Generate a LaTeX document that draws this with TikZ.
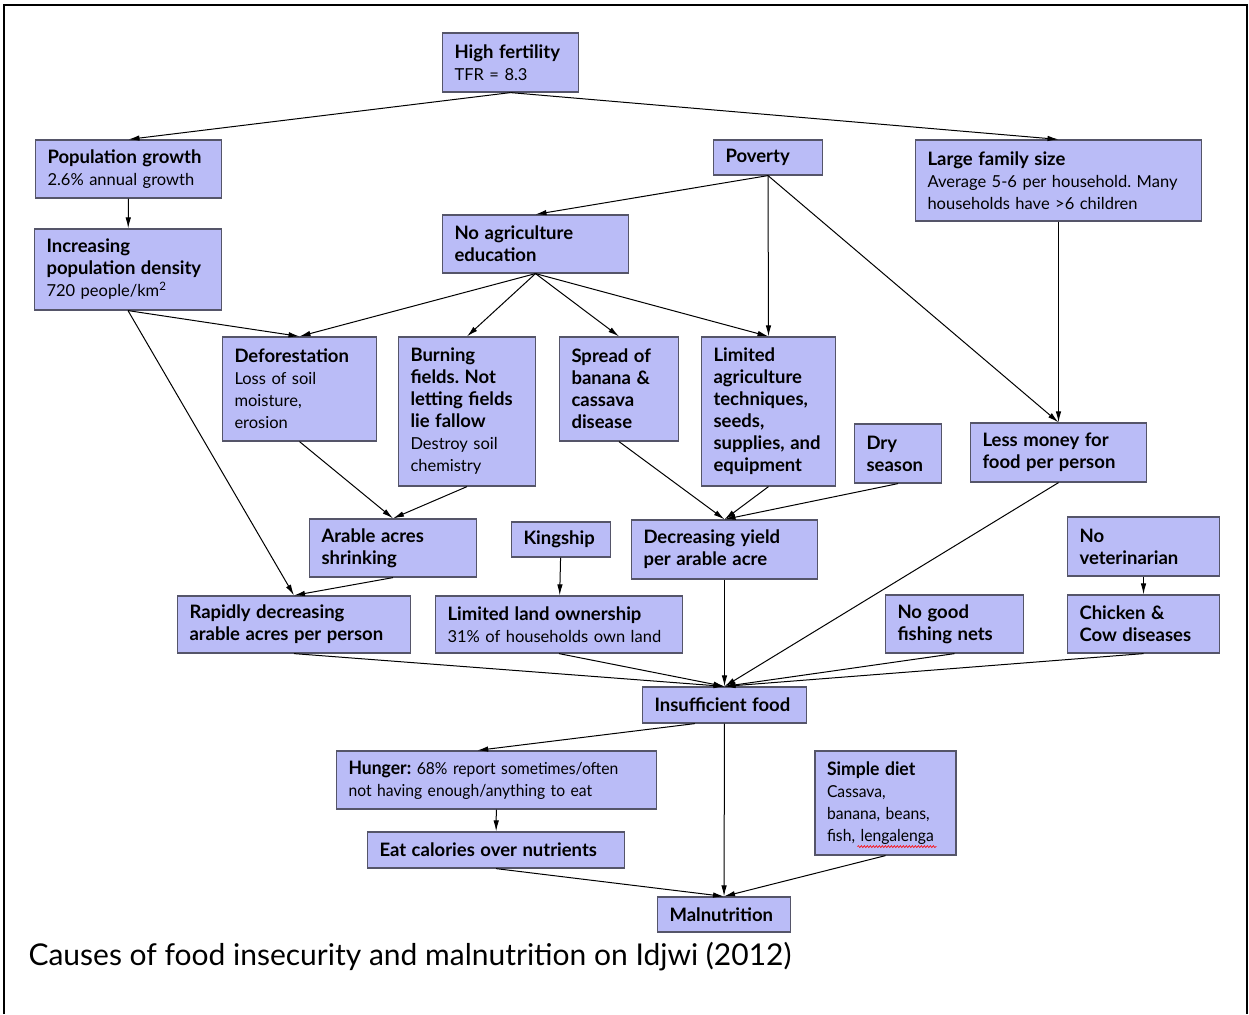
\documentclass[tikz,border=0pt]{standalone}
\usepackage{fontspec}
\setmainfont{Lato}
\newfontfamily\narrowfont[FakeStretch=0.95]{Lato}
\usetikzlibrary{calc}
\usetikzlibrary{arrows.meta}
\usetikzlibrary{decorations.pathmorphing}

\definecolor{boxfill}{RGB}{186,188,247}
\definecolor{boxline}{RGB}{85,85,105}

\newcommand{\hd}[1]{{\fontsize{18.5}{22}\selectfont\bfseries #1}}

\tikzset{
  cause/.style={rectangle, draw=boxline, fill=boxfill, line width=1.2pt, inner xsep=12pt, inner ysep=2pt, align=left, font=\fontsize{16.5}{22}\selectfont\frenchspacing},
  narrow/.style={font=\narrowfont\fontsize{16.5}{22}\selectfont\frenchspacing},
  link/.style={-{Latex[length=11pt,width=5.5pt]}, line width=1pt}
}

\begin{document}
\begin{tikzpicture}[x=1pt,y=-1pt]
        \useasboundingbox (0,0) rectangle (1249,1014);
        \draw[line width=2pt] (4,1014) -- (4,5) -- (1247,5) -- (1247,1014);

        % top rows
        \node[text width=112pt, minimum height=59pt] at (510.5,62.5) [cause] (fert) {\hd{High fertility}\\TFR = 8.3};
        \node[text width=162pt, minimum height=58pt] at (128.5,169) [cause] (popg) {\hd{Population growth}\\2.6\% annual growth};
        \node[text width=163pt, minimum height=81pt] at (128,269.5) [cause] (dens) {\hd{Increasing\\population density}\\720 people/km\textsuperscript{2}};
        \node[text width=85pt, minimum height=35pt] at (768,157.5) [cause] (pov) {\hd{Poverty}};
        \node[text width=262pt, minimum height=81pt] at (1058.5,180.5) [cause] (fam) {\hd{Large family size}\\Average 5-6 per household. Many\\households have >6 children};
        \node[text width=162pt, minimum height=58pt] at (535.5,244) [cause] (noedu) {\hd{No agriculture\\education}};

        % middle rows
        \node[text width=130pt, minimum height=104pt] at (299.5,389) [cause] (defo) {\hd{Deforestation}\\Loss of soil\\moisture,\\erosion};
        \node[text width=113pt, minimum height=149pt] at (467,411.5) [cause] (burn) {\hd{Burning\\fields. Not\\letting fields\\lie fallow}\\Destroy soil\\chemistry};
        \node[text width=95pt, minimum height=104pt] at (619,389) [cause] (spread) {\hd{Spread of\\banana \&\\cassava\\disease}};
        \node[text width=110pt, minimum height=149pt] at (768.5,411.5) [cause] (lim) {\hd{Limited\\agriculture\\techniques,\\seeds,\\supplies, and\\equipment}};
        \node[text width=63pt, minimum height=59pt] at (898,453.5) [cause] (dry) {\hd{Dry\\season}};
        \node[text width=152pt, minimum height=59pt] at (1058.5,452.5) [cause] (money) {\hd{Less money for\\food per person}};
        \node[text width=143pt, minimum height=58pt] at (393,548) [cause] (arable) {\hd{Arable acres\\shrinking}};
        \node[text width=75pt, minimum height=35pt] at (561,539.5) [cause] (king) {\hd{Kingship}};
        \node[text width=162pt, minimum height=59pt] at (724.5,549.5) [cause] (yield) {\hd{Decreasing yield\\per arable acre}};
        \node[text width=128pt, minimum height=59pt] at (1143.5,546.5) [cause] (novet) {\hd{No\\veterinarian}};
        \node[text width=209pt, minimum height=57pt] at (294,624.5) [cause] (rapid) {\hd{Rapidly decreasing\\arable acres per person}};
        \node[text width=223pt, inner xsep=10pt, minimum height=57pt] at (559,624.5) [cause] (land) {\hd{Limited land ownership}\\31\% of households own land};
        \node[text width=114pt, minimum height=58pt] at (954.5,624) [cause] (nets) {\hd{No good\\fishing nets}};
        \node[text width=128pt, minimum height=58pt] at (1143.5,624) [cause] (chick) {\hd{Chicken \&\\Cow diseases}};

        % bottom rows
        \node[text width=140pt, minimum height=36pt] at (724.5,705) [cause] (food) {\hd{Insufficient food}};
        \node[text width=296pt, minimum height=58pt] at (496.5,780) [cause, narrow] (hunger) {\hd{Hunger:} 68\% report sometimes/often\\not having enough/anything to eat};
        \node[text width=117pt, inner xsep=9pt, minimum height=104pt] at (885.5,803) [cause, narrow] (diet) {\hd{Simple diet}\\Cassava,\\banana, beans,\\fish, lengalenga};
        \node[text width=233pt, minimum height=36pt] at (496,850) [cause] (calor) {\hd{Eat calories over nutrients}};
        \node[text width=109pt, minimum height=35pt] at (724,914.5) [cause] (maln) {\hd{Malnutrition}};
        \node[anchor=base west, font=\fontsize{30}{34}\selectfont] at (25,965) (caption) {Causes of food insecurity and malnutrition on Idjwi (2012)};
        \draw[red, line width=0.6pt, decorate, decoration={snake, amplitude=1pt, segment length=3pt}] ($(diet.south west)+(43,-9)$) -- ($(diet.south east)+(-20,-9)$);

        \draw[link] (fert.south) -- (popg.north);
        \draw[link] (fert.south) -- (fam.north);
        \draw[link] (popg) -- (dens);
        \draw[link] (dens.south) -- (defo.north);
        \draw[link] (dens.south) -- (rapid.north);
        \draw[link] (pov.south) -- (noedu.north);
        \draw[link] (pov.south) -- (lim.north);
        \draw[link] (pov.south) -- (money.north);
        \draw[link] (fam) -- (money);
        \draw[link] (noedu.south) -- (defo.north);
        \draw[link] (noedu.south) -- (burn.north);
        \draw[link] (noedu.south) -- (spread.north);
        \draw[link] (noedu.south) -- (lim.north);
        \draw[link] (defo.south) -- (arable.north);
        \draw[link] (burn.south) -- (arable.north);
        \draw[link] (arable.south) -- (rapid.north);
        \draw[link] (king) -- (land);
        \draw[link] (spread.south) -- (yield.north);
        \draw[link] (lim.south) -- (yield.north);
        \draw[link] (dry.south) -- (yield.north);
        \draw[link] (novet) -- (chick);
        \draw[link] (rapid.south) -- (food.north);
        \draw[link] (land.south) -- (food.north);
        \draw[link] (yield) -- (food);
        \draw[link] (money.south) -- (food.north);
        \draw[link] (nets.south) -- (food.north);
        \draw[link] (chick.south) -- (food.north);
        \draw[link] ($(food.south west)!0.32!(food.south east)$) -- ($(hunger.north west)!0.44!(hunger.north east)$);
        \draw[link] (food) -- (maln);
        \draw[link] (hunger) -- (calor);
        \draw[link] (calor.south) -- (maln.north);
        \draw[link] (diet.south) -- (maln.north);
    \end{tikzpicture}
\end{document}
